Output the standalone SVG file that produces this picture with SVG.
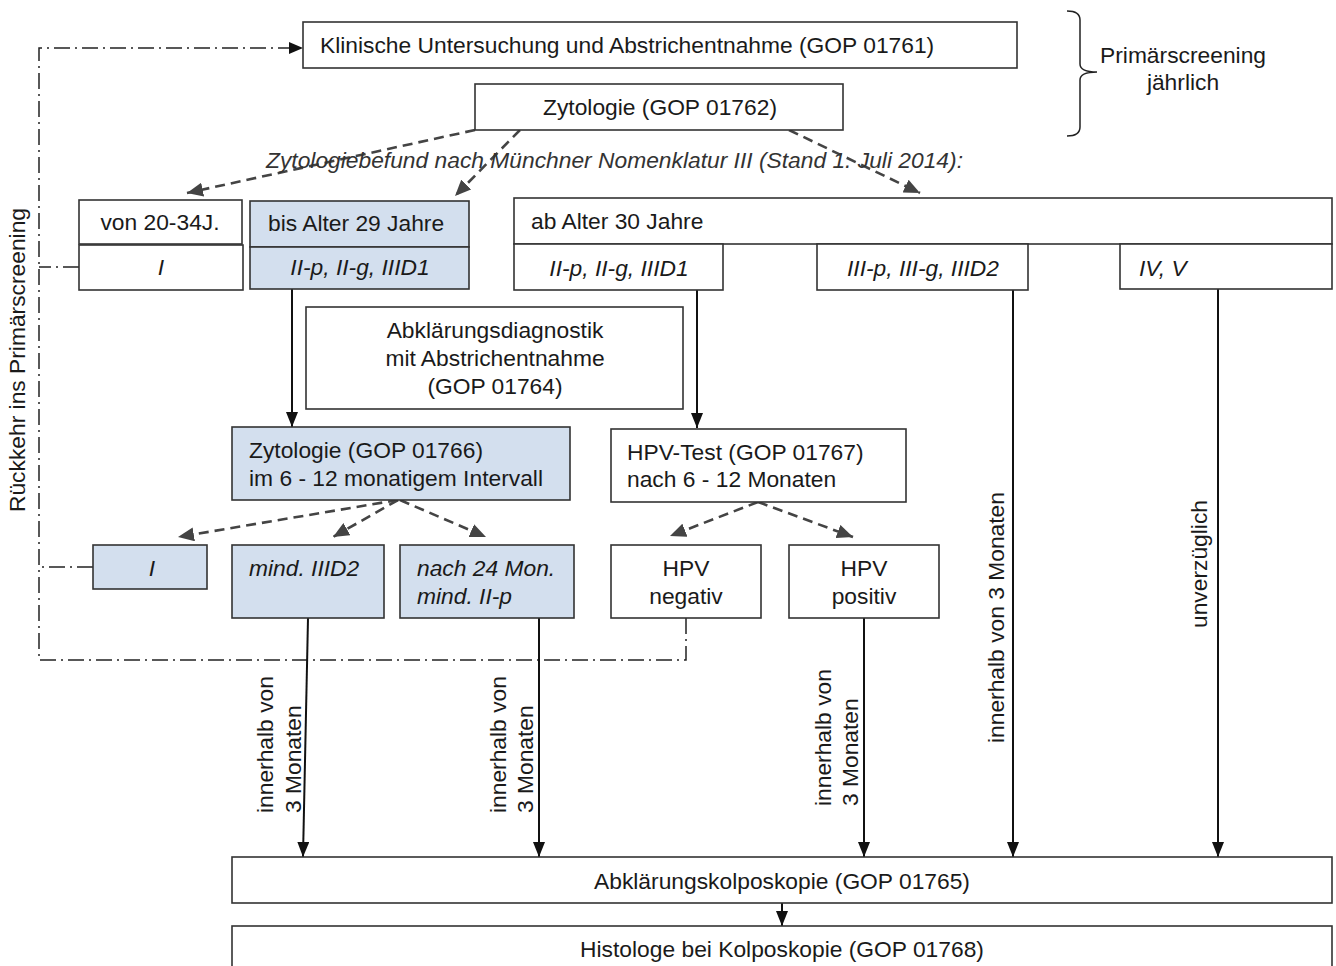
<svg xmlns="http://www.w3.org/2000/svg" width="1336" height="966" viewBox="0 0 1336 966">
<defs>
<style>
text{font-family:"Liberation Sans",Arial,sans-serif;font-size:22.8px;fill:#1a1a1a}
.it{font-style:italic}
.mid{text-anchor:middle}
.box{fill:#fff;stroke:#333;stroke-width:1.6}
.blue{fill:#d3dfee;stroke:#333;stroke-width:1.6}
.dash{fill:none;stroke:#444;stroke-width:2.6;stroke-dasharray:10 6}
.solid{fill:none;stroke:#111;stroke-width:2}
.dd{fill:none;stroke:#222;stroke-width:1.5;stroke-dasharray:16 5 2 5}
</style>
<marker id="ag" markerUnits="userSpaceOnUse" markerWidth="18" markerHeight="14" refX="16" refY="7" orient="auto">
<path d="M0,0 L16,7 L0,14 Z" fill="#444"/>
</marker>
<marker id="ab" markerUnits="userSpaceOnUse" markerWidth="16" markerHeight="12" refX="15" refY="6" orient="auto">
<path d="M0,0 L15,6 L0,12 Z" fill="#111"/>
</marker>
</defs>

<g id="connectors">
<path class="dd" d="M686,618 L686,660 L39,660 L39,48 L289,48"/>
<path d="M289,42 L303,48 L289,54 Z" fill="#111"/>
<path class="dd" d="M79,267 L39,267"/>
<path class="dd" d="M93,567 L39,567"/>
<path class="dash" d="M475,130 L187,193" marker-end="url(#ag)"/>
<path class="dash" d="M520,130 L455,196" marker-end="url(#ag)"/>
<path class="dash" d="M789,130 L920,193" marker-end="url(#ag)"/>
<path class="dash" d="M398,500 L178,537" marker-end="url(#ag)"/>
<path class="dash" d="M398,500 L333,537" marker-end="url(#ag)"/>
<path class="dash" d="M400,500 L486,537" marker-end="url(#ag)"/>
<path class="dash" d="M758,502 L670,536" marker-end="url(#ag)"/>
<path class="dash" d="M758,502 L853,537" marker-end="url(#ag)"/>
<path class="solid" d="M292,289 L292,427" marker-end="url(#ab)" stroke-width="2.6"/>
<path class="solid" d="M697,290 L697,428" marker-end="url(#ab)" stroke-width="2.6"/>
<path class="solid" d="M308,618 L303,857" marker-end="url(#ab)"/>
<path class="solid" d="M539,618 L539,857" marker-end="url(#ab)"/>
<path class="solid" d="M864,618 L864,857" marker-end="url(#ab)"/>
<path class="solid" d="M1013,290 L1013,857" marker-end="url(#ab)"/>
<path class="solid" d="M1218,289 L1218,857" marker-end="url(#ab)"/>
<path class="solid" d="M782,903 L782,926" marker-end="url(#ab)"/>
</g>

<g id="labels">
<text x="266" y="168" class="it" fill="#333" style="fill:#333">Zytologiebefund nach Münchner Nomenklatur III (Stand 1. Juli 2014):</text>
<text transform="translate(25,360) rotate(-90)" class="mid">Rückkehr ins Primärscreening</text>
<text transform="translate(273,813) rotate(-90)">innerhalb von</text>
<text transform="translate(301,813) rotate(-90)">3 Monaten</text>
<text transform="translate(506,813) rotate(-90)">innerhalb von</text>
<text transform="translate(533,813) rotate(-90)">3 Monaten</text>
<text transform="translate(831,806) rotate(-90)">innerhalb von</text>
<text transform="translate(858,806) rotate(-90)">3 Monaten</text>
<text transform="translate(1004,743) rotate(-90)">innerhalb von 3 Monaten</text>
<text transform="translate(1207,628) rotate(-90)">unverzüglich</text>
</g>

<g id="brace">
<path d="M1067,11 Q1080,11 1080,20 L1080,64 Q1080,72 1097,72 Q1080,72 1080,80 L1080,127 Q1080,136 1067,136" fill="none" stroke="#222" stroke-width="1.5"/>
<text x="1183" y="63" class="mid">Primärscreening</text>
<text x="1183" y="90" class="mid">jährlich</text>
</g>

<g id="n-klinisch">
<rect class="box" x="303" y="22" width="714" height="46"/>
<text x="320" y="53">Klinische Untersuchung und Abstrichentnahme (GOP 01761)</text>
</g>
<g id="n-zyto01762">
<rect class="box" x="475" y="84" width="368" height="46"/>
<text x="660" y="115" class="mid">Zytologie (GOP 01762)</text>
</g>

<g id="n-von2034">
<rect class="box" x="79" y="200" width="163" height="44"/>
<text x="160" y="230" class="mid">von 20-34J.</text>
</g>
<g id="n-von2034-I">
<rect class="box" x="79" y="245" width="164" height="45"/>
<text x="161" y="275" class="mid it">I</text>
</g>

<g id="n-bis29">
<rect class="blue" x="250" y="201" width="219" height="46"/>
<text x="268" y="231">bis Alter 29 Jahre</text>
</g>
<g id="n-bis29-II">
<rect class="blue" x="250" y="247" width="219" height="42"/>
<text x="360" y="275" class="mid it">II-p, II-g, IIID1</text>
</g>

<g id="n-ab30">
<rect class="box" x="514" y="198" width="818" height="46"/>
<text x="531" y="229">ab Alter 30 Jahre</text>
</g>
<g id="n-ab30-II">
<rect class="box" x="514" y="244" width="209" height="46"/>
<text x="619" y="276" class="mid it">II-p, II-g, IIID1</text>
</g>
<g id="n-ab30-III">
<rect class="box" x="817" y="244" width="211" height="46"/>
<text x="923" y="276" class="mid it">III-p, III-g, IIID2</text>
</g>
<g id="n-ab30-IV">
<rect class="box" x="1120" y="244" width="212" height="45"/>
<text x="1139" y="276" class="it">IV, V</text>
</g>

<g id="n-abkl01764">
<rect class="box" x="306" y="307" width="377" height="102"/>
<text x="495" y="338" class="mid">Abklärungsdiagnostik</text>
<text x="495" y="366" class="mid">mit Abstrichentnahme</text>
<text x="495" y="394" class="mid">(GOP 01764)</text>
</g>

<g id="n-zyto01766">
<rect class="blue" x="232" y="427" width="338" height="73"/>
<text x="249" y="458">Zytologie (GOP 01766)</text>
<text x="249" y="486">im 6 - 12 monatigem Intervall</text>
</g>
<g id="n-hpvtest">
<rect class="box" x="611" y="429" width="295" height="73"/>
<text x="627" y="460">HPV-Test (GOP 01767)</text>
<text x="627" y="487">nach 6 - 12 Monaten</text>
</g>

<g id="n-I2">
<rect class="blue" x="93" y="545" width="114" height="44"/>
<text x="152" y="576" class="mid it">I</text>
</g>
<g id="n-iiid2">
<rect class="blue" x="232" y="545" width="152" height="73"/>
<text x="249" y="576" class="it">mind. IIID2</text>
</g>
<g id="n-nach24">
<rect class="blue" x="400" y="545" width="174" height="73"/>
<text x="417" y="576" class="it">nach 24 Mon.</text>
<text x="417" y="604" class="it">mind. II-p</text>
</g>
<g id="n-hpvneg">
<rect class="box" x="611" y="545" width="150" height="73"/>
<text x="686" y="576" class="mid">HPV</text>
<text x="686" y="604" class="mid">negativ</text>
</g>
<g id="n-hpvpos">
<rect class="box" x="789" y="545" width="150" height="73"/>
<text x="864" y="576" class="mid">HPV</text>
<text x="864" y="604" class="mid">positiv</text>
</g>

<g id="n-kolpo">
<rect class="box" x="232" y="857" width="1100" height="46"/>
<text x="782" y="889" class="mid">Abklärungskolposkopie (GOP 01765)</text>
</g>
<g id="n-histo">
<rect class="box" x="232" y="926" width="1100" height="60"/>
<text x="782" y="957" class="mid">Histologe bei Kolposkopie (GOP 01768)</text>
</g>
</svg>
